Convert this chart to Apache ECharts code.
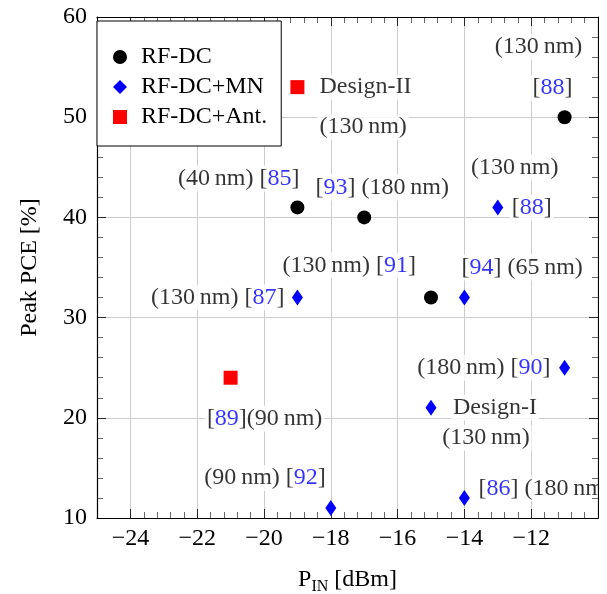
<!DOCTYPE html>
<html>
<head>
<meta charset="utf-8">
<script src="https://cdn.jsdelivr.net/npm/echarts@6/dist/echarts.min.js"></script>
<style>
  html, body { margin: 0; padding: 0; background: #fff; }
  #chart { width: 607px; height: 594px; }
</style>
</head>
<body>
<div id="chart"></div>
<script>
// ---- data ----
const seriesNames = ['RF-DC', 'RF-DC+MN', 'RF-DC+Ant.'];
const rfdc    = [[-11, 50], [-19, 41], [-17, 40], [-15, 32]];
const rfdcMn  = [[-13, 41], [-14, 32], [-19, 32], [-11, 25], [-15, 21], [-18, 11], [-14, 12]];
const rfdcAnt = [[-21, 24], [-19, 53]];
const xTicks = [-24, -22, -20, -18, -16, -14, -12];
const yTicks = [10, 20, 30, 40, 50, 60];
const xRange = [-25, -10];
const yRange = [10, 60];
const xMinorStep = 0.4;
const yMinorStep = 2;

// annotation texts attached to points: [seriesIndex, pointIndex, text]
const noteTexts = [
  [0, 0, '(130\u2009nm)'],
  [0, 0, '[{r|88}]'],
  [0, 1, '(40\u2009nm) [{r|85}]'],
  [0, 2, '[{r|93}] (180\u2009nm)'],
  [0, 3, '(130\u2009nm) [{r|91}]'],
  [1, 0, '(130\u2009nm)'],
  [1, 0, '[{r|88}]'],
  [1, 1, '[{r|94}] (65\u2009nm)'],
  [1, 2, '(130\u2009nm) [{r|87}]'],
  [1, 3, '(180\u2009nm) [{r|90}]'],
  [1, 4, 'Design-I'],
  [1, 4, '(130\u2009nm)'],
  [1, 5, '(90\u2009nm) [{r|92}]'],
  [1, 6, '[{r|86}] (180\u2009nm)'],
  [2, 0, '[{r|89}](90\u2009nm)'],
  [2, 1, 'Design-II'],
  [2, 1, '(130\u2009nm)']
];

// ---- layout / styles ----
const noteLayout = [
  { dx: -26, dy: -70, align: 'center' },
  { dx: -12, dy: -29, align: 'center' },
  { dx: 4,   dy: -29, align: 'right' },
  { dx: 18,  dy: -30, align: 'center' },
  { dx: -13, dy: -32, align: 'right' },
  { dx: 17,  dy: -40, align: 'center' },
  { dx: 12,  dy: 0,   align: 'left' },
  { dx: -5,  dy: -30, align: 'left' },
  { dx: -11, dy: 0,   align: 'right' },
  { dx: -12, dy: 0,   align: 'right' },
  { dx: 20,  dy: 0,   align: 'left' },
  { dx: 55,  dy: 30,  align: 'center' },
  { dx: -3,  dy: -30, align: 'right' },
  { dx: 12,  dy: -9,  align: 'left' },
  { dx: 34,  dy: 41,  align: 'center' },
  { dx: 20,  dy: 0,   align: 'left' },
  { dx: 20,  dy: 40,  align: 'left' }
];

const FONT = "'Liberation Serif', 'Times New Roman', serif";
const FS = 24;
const allSeries = [rfdc, rfdcMn, rfdcAnt];

function minorValues(range, step, majors) {
  const out = [];
  const n0 = Math.ceil(range[0] / step - 1e-9), n1 = Math.floor(range[1] / step + 1e-9);
  for (let k = n0; k <= n1; k++) {
    const v = Math.round(k * step * 1000) / 1000;
    if (v < majors[0] - 1e-9) continue;
    if (majors.some(m => Math.abs(m - v) < 1e-9)) continue;
    out.push(v);
  }
  return out;
}
const xMinor = minorValues(xRange, xMinorStep, xTicks);
const yMinor = minorValues(yRange, yMinorStep, yTicks);

const fmtNum = v => (v < 0 ? '\u2212' + Math.abs(v) : String(v));

const notesData = noteTexts.map((n, k) => {
  const L = noteLayout[k];
  return {
    value: allSeries[n[0]][n[1]],
    label: {
      show: true,
      position: 'inside',
      align: L.align,
      verticalAlign: 'middle',
      offset: [L.dx, L.dy],
      formatter: () => n[2]
    }
  };
});

function xAx(pos, isMain, minor) {
  return {
    type: 'value', position: pos, min: xRange[0], max: xRange[1],
    axisLine: { show: !minor, onZero: false, lineStyle: { color: '#000', width: 1.2 } },
    axisTick: { show: true, inside: true, length: minor ? 6 : 9,
      customValues: minor ? xMinor : xTicks,
      lineStyle: { color: '#000', width: minor ? 0.6 : 0.8 } },
    axisLabel: isMain ? { show: true, customValues: xTicks, formatter: fmtNum,
      fontFamily: FONT, fontSize: FS, color: '#000', margin: 9 } : { show: false },
    splitLine: { show: isMain, lineStyle: { color: '#cccccc', width: 1 } },
    name: isMain ? '{a|P}{s|IN}{a| [dBm]}' : '',
    nameLocation: 'middle', nameGap: 47,
    nameTextStyle: { rich: {
      a: { fontFamily: FONT, fontSize: FS, color: '#000', lineHeight: 30, verticalAlign: 'middle' },
      s: { fontFamily: FONT, fontSize: 16, color: '#000', lineHeight: 16, verticalAlign: 'bottom' }
    } },
    z: pos === 'top' ? 10 : 0
  };
}
function yAx(pos, isMain, minor) {
  return {
    type: 'value', position: pos, min: yRange[0], max: yRange[1],
    axisLine: { show: !minor, onZero: false, lineStyle: { color: '#000', width: 1.2 } },
    axisTick: { show: true, inside: true, length: minor ? 6 : 9,
      customValues: minor ? yMinor : yTicks,
      lineStyle: { color: '#000', width: minor ? 0.6 : 0.8 } },
    axisLabel: isMain ? { show: true, customValues: yTicks, fontFamily: FONT, fontSize: FS,
      color: '#000', margin: 10 } : { show: false },
    splitLine: { show: isMain, lineStyle: { color: '#cccccc', width: 1 } },
    name: isMain ? 'Peak PCE [%]' : '',
    nameLocation: 'middle', nameGap: 55, nameRotate: 90,
    nameTextStyle: { fontFamily: FONT, fontSize: FS, color: '#000' },
    z: pos === 'right' ? 10 : 0
  };
}

const chart = echarts.init(document.getElementById('chart'), null, { renderer: 'canvas' });
chart.setOption({
  animation: false,
  backgroundColor: '#fff',
  grid: { left: 97, right: 9, top: 17, bottom: 76, containLabel: false, outerBoundsMode: 'none' },
  xAxis: [xAx('bottom', true, false), xAx('top', false, false), xAx('bottom', false, true), xAx('top', false, true)],
  yAxis: [yAx('left', true, false), yAx('right', false, false), yAx('left', false, true), yAx('right', false, true)],
  legend: {
    data: seriesNames,
    orient: 'vertical', left: 97, top: 21,
    padding: [21, 14, 14, 16],
    itemGap: 0, itemWidth: 14, itemHeight: 14,
    backgroundColor: '#fff', borderColor: '#000', borderWidth: 1, borderRadius: 0,
    textStyle: { fontFamily: FONT, fontSize: FS, color: '#000', lineHeight: 30, padding: [0, 0, 0, 9] },
    selectedMode: false, z: 20
  },
  graphic: [{
    type: 'rect', left: 599, top: 0, shape: { width: 8, height: 540 },
    style: { fill: '#fff' }, z: 50, silent: true
  }],
  series: [
    { name: seriesNames[0], type: 'scatter', data: rfdc, symbol: 'circle', symbolSize: 14,
      itemStyle: { color: '#000', opacity: 1 }, z: 3 },
    { name: seriesNames[1], type: 'scatter', data: rfdcMn, symbol: 'diamond', symbolSize: [11, 16],
      itemStyle: { color: '#0000ff', opacity: 1 }, z: 3 },
    { name: seriesNames[2], type: 'scatter', data: rfdcAnt, symbol: 'rect', symbolSize: 14,
      itemStyle: { color: '#ff0000', opacity: 1 }, z: 3 },
    { type: 'scatter', data: notesData, symbolSize: 0, silent: true, z: 4,
      label: { fontFamily: FONT, fontSize: FS, color: '#000', backgroundColor: '#fff',
        padding: [0, 2], lineHeight: 26,
        rich: { r: { fontFamily: FONT, fontSize: FS, color: '#0000ff', lineHeight: 26 } } } }
  ]
});
</script>
</body>
</html>
